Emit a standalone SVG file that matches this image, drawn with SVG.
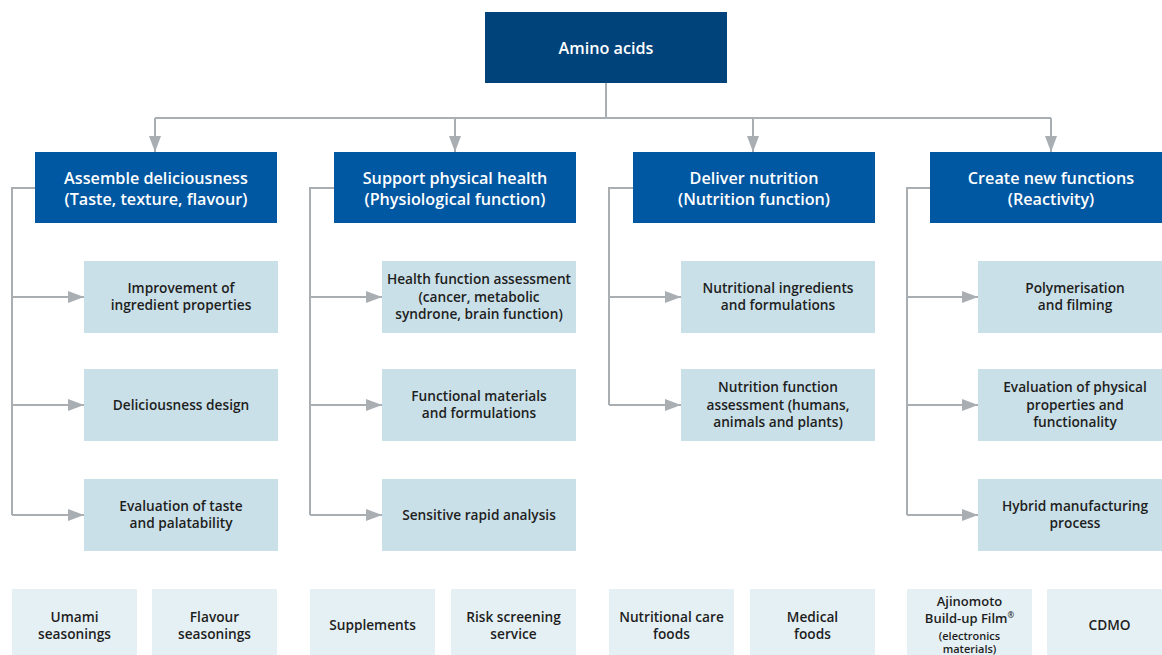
<svg xmlns="http://www.w3.org/2000/svg" width="1162" height="655" viewBox="0 0 1162 655">
<style>
.top{fill:#00427a}
.hdr{fill:#0057a2}
.sub{fill:#cae0e8}
.bot{fill:#e5f0f5}
.wt{font-family:"Open Sans","Liberation Sans",sans-serif;font-weight:600;font-size:16.2px;fill:#ffffff;text-anchor:middle}
.dt{font-family:"Open Sans","Liberation Sans",sans-serif;font-weight:600;font-size:13.7px;fill:#1e1e1e;text-anchor:middle}
.at{font-family:"Open Sans","Liberation Sans",sans-serif;font-weight:600;font-size:13px;fill:#1e1e1e;text-anchor:middle}
.st{font-family:"Open Sans","Liberation Sans",sans-serif;font-weight:600;font-size:11px;fill:#1e1e1e;text-anchor:middle}
.ln{fill:none;stroke:#a9aeb3;stroke-width:2}
</style>
<defs>
<marker id="ah" markerUnits="userSpaceOnUse" markerWidth="16" markerHeight="12" refX="16" refY="6" orient="auto">
<path d="M0,0 L16,6 L0,12 z" fill="#a9aeb3"/>
</marker>
</defs>
<g id="connectors">
<path class="ln" d="M606,83 V118 M155,118 H1051"/>
<path class="ln" d="M155,118 V152" marker-end="url(#ah)"/>
<path class="ln" d="M455,118 V152" marker-end="url(#ah)"/>
<path class="ln" d="M753,118 V152" marker-end="url(#ah)"/>
<path class="ln" d="M1051,118 V152" marker-end="url(#ah)"/>
<path class="ln" d="M35,188 H12 V515"/>
<path class="ln" d="M12,297 H84" marker-end="url(#ah)"/>
<path class="ln" d="M12,405 H84" marker-end="url(#ah)"/>
<path class="ln" d="M12,515 H84" marker-end="url(#ah)"/>
<path class="ln" d="M334,188 H310 V515"/>
<path class="ln" d="M310,297 H382" marker-end="url(#ah)"/>
<path class="ln" d="M310,405 H382" marker-end="url(#ah)"/>
<path class="ln" d="M310,515 H382" marker-end="url(#ah)"/>
<path class="ln" d="M633,188 H609 V405"/>
<path class="ln" d="M609,297 H681" marker-end="url(#ah)"/>
<path class="ln" d="M609,405 H681" marker-end="url(#ah)"/>
<path class="ln" d="M930,188 H907 V515"/>
<path class="ln" d="M907,297 H978" marker-end="url(#ah)"/>
<path class="ln" d="M907,405 H978" marker-end="url(#ah)"/>
<path class="ln" d="M907,515 H978" marker-end="url(#ah)"/>
</g>
<g id="amino-acids"><rect class="top" x="485" y="12" width="242" height="71"/><text class="wt" x="606" y="54">Amino acids</text></g>
<g id="assemble"><rect class="hdr" x="35" y="152" width="242" height="71"/><text class="wt" x="156" y="183.5">Assemble deliciousness</text><text class="wt" x="156" y="204.5">(Taste, texture, flavour)</text></g>
<g id="support"><rect class="hdr" x="334" y="152" width="242" height="71"/><text class="wt" x="455" y="183.5">Support physical health</text><text class="wt" x="455" y="204.5">(Physiological function)</text></g>
<g id="deliver"><rect class="hdr" x="633" y="152" width="242" height="71"/><text class="wt" x="754" y="183.5">Deliver nutrition</text><text class="wt" x="754" y="204.5">(Nutrition function)</text></g>
<g id="create"><rect class="hdr" x="930" y="152" width="242" height="71"/><text class="wt" x="1051" y="183.5">Create new functions</text><text class="wt" x="1051" y="204.5">(Reactivity)</text></g>

<g id="improvement"><rect class="sub" x="84" y="261" width="194" height="72"/><text class="dt" x="181" y="293">Improvement of</text><text class="dt" x="181" y="310">ingredient properties</text></g>
<g id="deliciousness-design"><rect class="sub" x="84" y="369" width="194" height="72"/><text class="dt" x="181" y="410">Deliciousness design</text></g>
<g id="evaluation-taste"><rect class="sub" x="84" y="479" width="194" height="72"/><text class="dt" x="181" y="511">Evaluation of taste</text><text class="dt" x="181" y="528">and palatability</text></g>

<g id="health-function"><rect class="sub" x="382" y="261" width="194" height="72"/><text class="dt" x="479" y="284">Health function assessment</text><text class="dt" x="479" y="301.5">(cancer, metabolic</text><text class="dt" x="479" y="319">syndrone, brain function)</text></g>
<g id="functional-materials"><rect class="sub" x="382" y="369" width="194" height="72"/><text class="dt" x="479" y="401">Functional materials</text><text class="dt" x="479" y="418">and formulations</text></g>
<g id="sensitive-analysis"><rect class="sub" x="382" y="479" width="194" height="72"/><text class="dt" x="479" y="520">Sensitive rapid analysis</text></g>

<g id="nutritional-ingredients"><rect class="sub" x="681" y="261" width="194" height="72"/><text class="dt" x="778" y="293">Nutritional ingredients</text><text class="dt" x="778" y="310">and formulations</text></g>
<g id="nutrition-assessment"><rect class="sub" x="681" y="369" width="194" height="72"/><text class="dt" x="778" y="392">Nutrition function</text><text class="dt" x="778" y="409.5">assessment (humans,</text><text class="dt" x="778" y="427">animals and plants)</text></g>

<g id="polymerisation"><rect class="sub" x="978" y="261" width="194" height="72"/><text class="dt" x="1075" y="293">Polymerisation</text><text class="dt" x="1075" y="310">and filming</text></g>
<g id="evaluation-physical"><rect class="sub" x="978" y="369" width="194" height="72"/><text class="dt" x="1075" y="392">Evaluation of physical</text><text class="dt" x="1075" y="409.5">properties and</text><text class="dt" x="1075" y="427">functionality</text></g>
<g id="hybrid"><rect class="sub" x="978" y="479" width="194" height="72"/><text class="dt" x="1075" y="511">Hybrid manufacturing</text><text class="dt" x="1075" y="528">process</text></g>

<g id="umami"><rect class="bot" x="12" y="589" width="125" height="66"/><text class="dt" x="74.5" y="622">Umami</text><text class="dt" x="74.5" y="639">seasonings</text></g>
<g id="flavour"><rect class="bot" x="152" y="589" width="125" height="66"/><text class="dt" x="214.5" y="622">Flavour</text><text class="dt" x="214.5" y="639">seasonings</text></g>
<g id="supplements"><rect class="bot" x="310" y="589" width="125" height="66"/><text class="dt" x="372.5" y="630">Supplements</text></g>
<g id="risk-screening"><rect class="bot" x="451" y="589" width="125" height="66"/><text class="dt" x="513.5" y="622">Risk screening</text><text class="dt" x="513.5" y="639">service</text></g>
<g id="nutritional-care"><rect class="bot" x="609" y="589" width="125" height="66"/><text class="dt" x="671.5" y="622">Nutritional care</text><text class="dt" x="671.5" y="639">foods</text></g>
<g id="medical"><rect class="bot" x="750" y="589" width="125" height="66"/><text class="dt" x="812.5" y="622">Medical</text><text class="dt" x="812.5" y="639">foods</text></g>
<g id="abf"><rect class="bot" x="907" y="589" width="125" height="66"/><text class="at" x="969.5" y="606">Ajinomoto</text><text class="at" x="969.5" y="623">Build-up Film<tspan font-size="8" dy="-5">®</tspan></text><text class="st" x="969.5" y="640">(electronics</text><text class="st" x="969.5" y="653">materials)</text></g>
<g id="cdmo"><rect class="bot" x="1047" y="589" width="125" height="66"/><text class="dt" x="1109.5" y="630">CDMO</text></g>
</svg>
